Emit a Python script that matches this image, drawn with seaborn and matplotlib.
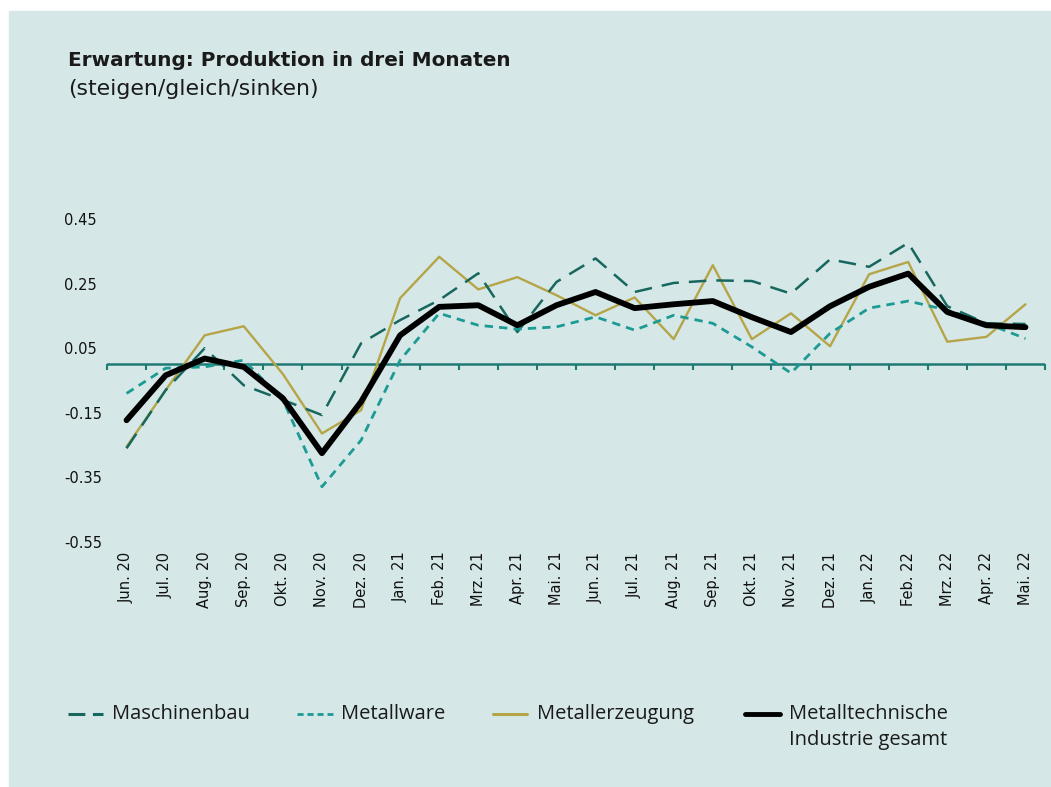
import numpy as np
import pandas as pd
import matplotlib
matplotlib.use('Agg')
import matplotlib.pyplot as plt
import seaborn as sns
from matplotlib.lines import Line2D
from matplotlib.patches import Rectangle

# Daten
months = ["Jun. 20", "Jul. 20", "Aug. 20", "Sep. 20", "Okt. 20", "Nov. 20", "Dez. 20",
          "Jan. 21", "Feb. 21", "Mrz. 21", "Apr. 21", "Mai. 21", "Jun. 21", "Jul. 21",
          "Aug. 21", "Sep. 21", "Okt. 21", "Nov. 21", "Dez. 21", "Jan. 22", "Feb. 22",
          "Mrz. 22", "Apr. 22", "Mai. 22"]
maschinenbau = [-0.26, -0.08, 0.05, -0.065, -0.11, -0.157, 0.065, 0.137, 0.199, 0.282, 0.10, 0.255,
                0.328, 0.224, 0.252, 0.26, 0.258, 0.219, 0.325, 0.302, 0.376, 0.18, 0.127, 0.125]
metallware = [-0.09, -0.012, -0.008, 0.013, -0.11, -0.379, -0.235, 0.013, 0.158, 0.121, 0.109, 0.116,
              0.147, 0.106, 0.152, 0.127, 0.054, -0.027, 0.096, 0.174, 0.196, 0.168, 0.127, 0.08]
metallerzeugung = [-0.255, -0.08, 0.09, 0.118, -0.03, -0.214, -0.142, 0.205, 0.333, 0.232, 0.27, 0.214,
                   0.152, 0.207, 0.078, 0.307, 0.078, 0.158, 0.056, 0.279, 0.317, 0.07, 0.085, 0.186]
gesamt = [-0.173, -0.034, 0.018, -0.008, -0.105, -0.275, -0.116, 0.09, 0.178, 0.183, 0.121, 0.183,
          0.224, 0.174, 0.186, 0.196, 0.146, 0.10, 0.18, 0.24, 0.281, 0.162, 0.121, 0.115]
yticks = [0.45, 0.25, 0.05, -0.15, -0.35, -0.55]
ytick_labels = ["0.45", "0.25", "0.05", "-0.15", "-0.35", "-0.55"]

bg = '#d5e8e7'
c_masch = '#17675f'
c_ware = '#1c9a94'
c_erz = '#b5a548'
c_ges = '#000000'
c_axis = '#1f7a74'

sns.set_theme(style='white')
plt.rcParams['font.family'] = ['DejaVu Sans']

W, H = 1051, 787
fig = plt.figure(figsize=(W / 100, H / 100), dpi=100)
fig.patch.set_facecolor('white')
fig.add_artist(Rectangle((9 / W, 0), 1, 1 - 11 / H, transform=fig.transFigure,
                         color=bg, zorder=-10))

ymin, ymax = -0.55, 0.45
ax = fig.add_axes([107 / W, 1 - 542 / H, (1045 - 107) / W, (542 - 219) / H])
ax.set_facecolor('none')

df = pd.DataFrame({'idx': np.arange(len(months)), 'monat': months,
                   'maschinenbau': maschinenbau, 'metallware': metallware,
                   'metallerzeugung': metallerzeugung, 'gesamt': gesamt})

# Nulllinie
ax.axhline(0, color=c_axis, lw=1.8, zorder=1)

sns.lineplot(data=df, x='idx', y='metallerzeugung', ax=ax, color=c_erz, lw=1.7, zorder=3)
sns.lineplot(data=df, x='idx', y='maschinenbau', ax=ax, color=c_masch, lw=1.8, zorder=4)
ax.lines[-1].set_dashes([7, 4])
sns.lineplot(data=df, x='idx', y='metallware', ax=ax, color=c_ware, lw=2.0, zorder=4)
ax.lines[-1].set_dashes([3, 2.2])
sns.lineplot(data=df, x='idx', y='gesamt', ax=ax, color=c_ges, lw=4.2, zorder=5)
ax.lines[-1].set_solid_capstyle('round')

ax.set_xlim(-0.5, len(months) - 0.5)
ax.set_ylim(ymin, ymax)
for s in ax.spines.values():
    s.set_visible(False)
ax.set_xlabel('')
ax.set_ylabel('')

# Monatsbeschriftung unten
ax.set_xticks(df['idx'], labels=months, rotation=90, fontsize=10.5, color='#111111')
ax.tick_params(axis='x', length=0, pad=7)
for lab in ax.get_xticklabels():
    lab.set_va('top')

# y-Achse
ax.set_yticks(yticks, labels=ytick_labels, fontsize=10.5, color='#111111')
ax.tick_params(axis='y', length=0, pad=31)
for lab in ax.get_yticklabels():
    lab.set_ha('left')

# Teilstriche an der Nulllinie
zero = ax.secondary_xaxis((0 - ymin) / (ymax - ymin))
zero.set_xticks(np.arange(-0.5, len(months), 1), labels=[])
zero.tick_params(axis='x', direction='out', length=4, width=1.5, color=c_axis,
                 bottom=True, top=False)
for s in zero.spines.values():
    s.set_visible(False)

# Titel
fig.text(68 / W, 1 - 66 / H, 'Erwartung: Produktion in drei Monaten', fontsize=14.4,
         fontweight='bold', family=['DejaVu Sans'], color='#1a1a1a', va='baseline')
fig.text(68 / W, 1 - 95 / H, '(steigen/gleich/sinken)', fontsize=15.8,
         family=['DejaVu Sans'], color='#1a1a1a', va='baseline')

# Legende
ly = 1 - 714 / H
legend_items = [
    (68, 103, 112, c_masch, 2.2, [5.5, 2.5], 'Maschinenbau'),
    (297, 333, 341, c_ware, 2.0, [2.2, 1.4], 'Metallware'),
    (493, 527, 537, c_erz, 2.2, None, 'Metallerzeugung'),
    (745, 780, 789, c_ges, 3.5, None, 'Metalltechnische\nIndustrie gesamt'),
]
for x0, x1, tx, col, lw, dashes, label in legend_items:
    ln = Line2D([x0 / W, x1 / W], [ly, ly], transform=fig.transFigure, color=col, lw=lw)
    if dashes:
        ln.set_dashes(dashes)
    fig.add_artist(ln)
    fig.text(tx / W, ly + 10 / H, label, fontsize=14.5, family=['Open Sans', 'DejaVu Sans'],
             color='#1a1a1a', va='top', ha='left', linespacing=1.38)

fig.savefig('out.png', dpi=100, facecolor=fig.get_facecolor())
